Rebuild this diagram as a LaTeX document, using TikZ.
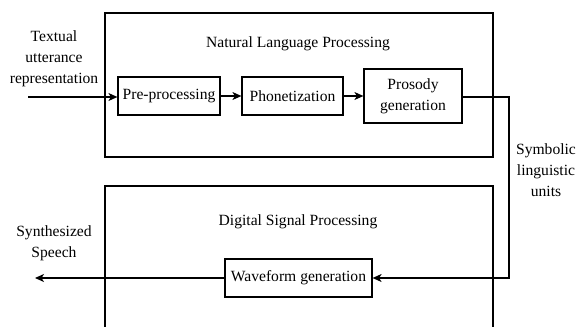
\documentclass[tikz,border=0pt]{standalone}
\usepackage{fontspec}
\setmainfont{Liberation Serif}
\usetikzlibrary{arrows.meta}
\begin{document}
\begin{tikzpicture}[x=1pt,y=-1pt,
  every node/.style={font=\fontsize{15.6}{21}\selectfont},
  frame/.style={draw,line width=1.3pt,inner sep=0pt},
  unit/.style={draw,line width=1.2pt,inner sep=2pt,align=center},
  lbl/.style={align=center,inner sep=0pt},
  flow/.style={line width=1.3pt,-{Stealth[length=9pt,width=8pt,inset=2.5pt]}}]
\useasboundingbox (0,0) rectangle (582,327);
\clip (0,0) rectangle (582,327);
% containers
\node[frame,minimum width=388pt,minimum height=144pt] (nlp) at (299,85) {};
\node[frame,minimum width=388pt,minimum height=160pt] (dsp) at (299,266) {};
\node[lbl] (nlpt) at (298,44) {Natural Language Processing};
\node[lbl] (dspt) at (298,222) {Digital Signal Processing};
% processing units
\node[unit,minimum width=102pt,minimum height=38pt] (pre) at (169,96) {Pre-processing};
\node[unit,minimum width=101pt,minimum height=38pt] (pho) at (292.5,96) {Phonetization};
\node[unit,minimum width=98pt,minimum height=54pt] (pro) at (413,96) {Prosody\\generation};
\node[unit,minimum width=147pt,minimum height=38pt] (wav) at (298.5,278) {Waveform generation};
% side labels
\node[lbl] (inl) at (54,59) {Textual\\utterance\\representation};
\node[lbl] (syml) at (546,170) {Symbolic\\linguistic\\units};
\node[lbl] (outl) at (54,243) {Synthesized\\Speech};
% free ends
\coordinate (src) at (28,97);
\coordinate (sink) at (35,278);
\coordinate (turn) at (509,97);
% connectors
\draw[flow] (src) -- (pre.west |- src);
\draw[flow] (pre) -- (pho);
\draw[flow] (pho) -- (pho -| pro.west);
\draw[flow] (pro.east |- turn) -- (turn) |- (wav.east);
\draw[flow] (wav) -- (sink);
\end{tikzpicture}
\end{document}
